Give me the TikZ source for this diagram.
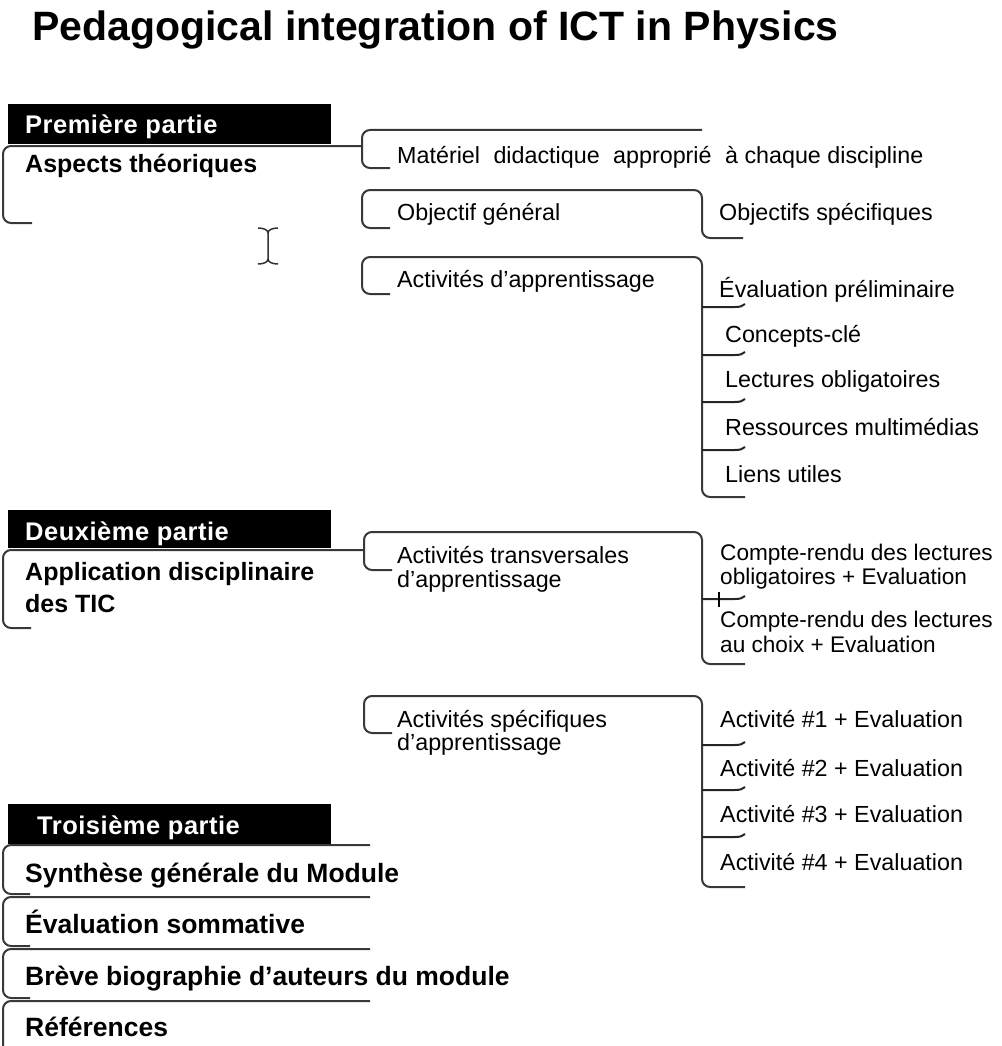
\documentclass[tikz,border=0pt]{standalone}
\usepackage{fontspec}
\setmainfont{Liberation Sans}
\newfontfamily\bfx{Liberation Sans}[LetterSpace=2]
\begin{document}
\begin{tikzpicture}[x=1pt,y=-1pt,
  reg/.style={anchor=base west, inner sep=0pt, font=\fontsize{23.3}{24}\selectfont},
  regs/.style={anchor=base west, inner sep=0pt, font=\fontsize{22.6}{24}\selectfont},
  bld/.style={anchor=base west, inner sep=0pt, font=\bfseries\fontsize{25}{32}\selectfont},
  bldb/.style={anchor=base west, inner sep=0pt, font=\bfseries\fontsize{26.5}{32}\selectfont},
  hdr/.style={anchor=base west, inner sep=0pt, font=\bfx\bfseries\fontsize{25.5}{32}\selectfont, text=white},
  brk/.style={line width=2pt, draw=black!78, rounded corners=8pt},
  tick/.style={line width=2pt, draw=black!85},
  partbox/.style={fill=black}]
\useasboundingbox (0,0) rectangle (1001,1046);
\clip (0,0) rectangle (1001,1046);

% title
\node[anchor=base west, inner sep=0pt, font=\fontsize{41}{41}\selectfont\bfseries] (title) at (32,41) {Pedagogical integration of ICT in Physics};

% cursor
\draw[line width=1.5pt, black!80] (258,228) .. controls (264,228) and (268,230) .. (268,233) -- (268,259) .. controls (268,262) and (264,264) .. (258,264);
\draw[line width=1.5pt, black!80] (278,228) .. controls (272,228) and (268,230) .. (268,233);
\draw[line width=1.5pt, black!80] (268,259) .. controls (268,262) and (272,264) .. (278,264);

% ---------- Premiere partie
\fill[partbox] (8,104) rectangle (331,144);
\node[hdr] (p1) at (25,134) {Première partie};
\draw[brk] (362,146) -- (3,146) -- (3,223) -- (32,223);
\node[bld] (aspects) at (25,172) {Aspects théoriques};

\draw[brk] (702,130) -- (362,130) -- (362,168) -- (390,168);
\node[reg] (mat) at (397,163) {Matériel\hspace{7pt} didactique\hspace{7pt} approprié\hspace{7pt} à chaque discipline};

\draw[brk] (390,228) -- (362,228) -- (362,190) -- (702,190) -- (702,238) -- (743,238);
\node[reg] (objg) at (397,220) {Objectif général};
\node[reg] (objs) at (719,220) {Objectifs spécifiques};

\draw[brk] (390,294) -- (362,294) -- (362,257) -- (702,257) -- (702,497) -- (745,497);
\node[reg] (act) at (397,287) {Activités d'apprentissage};
\foreach \yy in {307,355,402,450}
  \draw[tick] (702,\yy) -- (735,\yy) .. controls (740,\yy) and (743,\yy-1) .. (745,\yy-3);
\node[reg] (evalp) at (719,297) {Évaluation préliminaire};
\node[reg] (conc) at (725,342) {Concepts-clé};
\node[reg] (lect) at (725,387) {Lectures obligatoires};
\node[reg] (ress) at (725,435) {Ressources multimédias};
\node[reg] (liens) at (725,482) {Liens utiles};

% ---------- Deuxieme partie
\fill[partbox] (8,510) rectangle (331,548);
\node[hdr] (p2) at (25,540) {Deuxième partie};
\draw[brk] (364,550) -- (3,550) -- (3,628) -- (31,628);
\node[bld] (appl1) at (25,580) {Application disciplinaire};
\node[bld] (appl2) at (25,612) {des TIC};

\draw[brk] (392,570) -- (364,570) -- (364,532) -- (702,532) -- (702,664) -- (745,664);
\draw[tick] (702,599) -- (735,599) .. controls (740,599) and (743,598) .. (745,596);
\draw[line width=1.3pt] (719,592) -- (719,607);
\node[reg] (tr1) at (397,563) {Activités transversales};
\node[reg] (tr2) at (397,587) {d'apprentissage};
\node[regs] (cr1a) at (720,560) {Compte-rendu des lectures};
\node[regs] (cr1b) at (720,584) {obligatoires + Evaluation};
\node[regs] (cr2a) at (720,627) {Compte-rendu des lectures};
\node[regs] (cr2b) at (720,652) {au choix + Evaluation};

\draw[brk] (392,733) -- (364,733) -- (364,696) -- (702,696) -- (702,887) -- (745,887);
\foreach \yy in {745,790,837}
  \draw[tick] (702,\yy) -- (735,\yy) .. controls (740,\yy) and (743,\yy-1) .. (745,\yy-3);
\node[reg] (sp1) at (397,727) {Activités spécifiques};
\node[reg] (sp2) at (397,750) {d'apprentissage};
\node[reg] (a1) at (720,727) {Activité \#1 + Evaluation};
\node[reg] (a2) at (720,776) {Activité \#2 + Evaluation};
\node[reg] (a3) at (720,822) {Activité \#3 + Evaluation};
\node[reg] (a4) at (720,870) {Activité \#4 + Evaluation};

% ---------- Troisieme partie
\fill[partbox] (8,804) rectangle (331,844);
\node[hdr] (p3) at (37,834) {Troisième partie};
\draw[brk] (370,845) -- (3,845) -- (3,894) -- (30,894);
\draw[brk] (370,897) -- (3,897) -- (3,946) -- (30,946);
\draw[brk] (370,949) -- (3,949) -- (3,998) -- (30,998);
\draw[brk] (370,1001) -- (3,1001) -- (3,1060);
\node[bldb] (syn) at (25,882) {Synthèse générale du Module};
\node[bldb] (evs) at (25,933) {Évaluation sommative};
\node[bldb] (bio) at (25,985) {Brève biographie d'auteurs du module};
\node[bldb] (ref) at (25,1036) {Références};
\end{tikzpicture}
\end{document}
